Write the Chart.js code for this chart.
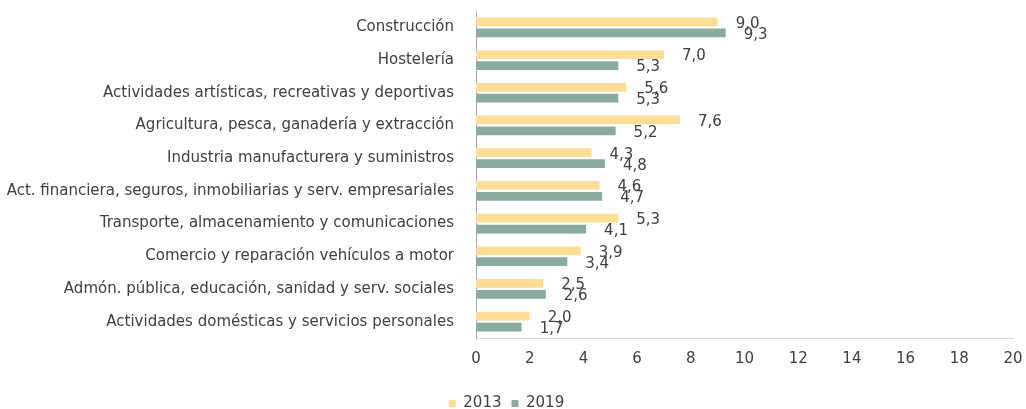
<!DOCTYPE html>
<html>
<head>
<meta charset="utf-8">
<script src="https://cdn.jsdelivr.net/npm/chart.js@4"></script>
<style>
  html, body { margin: 0; padding: 0; background: #fff; }
  #wrap { width: 1026px; height: 409px; }
</style>
</head>
<body>
<div id="wrap"><canvas id="sector-chart" width="1026" height="409"></canvas></div>
<script>
const categories = [
	"Construcción",
	"Hostelería",
	"Actividades artísticas, recreativas y deportivas",
	"Agricultura, pesca, ganadería y extracción",
	"Industria manufacturera y suministros",
	"Act. financiera, seguros, inmobiliarias y serv. empresariales",
	"Transporte, almacenamiento y comunicaciones",
	"Comercio y reparación vehículos a motor",
	"Admón. pública, educación, sanidad y serv. sociales",
	"Actividades domésticas y servicios personales",
];

const values2013 = [9.0, 7.0, 5.6, 7.6, 4.3, 4.6, 5.3, 3.9, 2.5, 2.0];
const values2019 = [9.3, 5.3, 5.3, 5.2, 4.8, 4.7, 4.1, 3.4, 2.6, 1.7];

const xTicks = [0, 2, 4, 6, 8, 10, 12, 14, 16, 18, 20];

const FONT = "DejaVu Sans";
const TEXT = "#404040";

// value labels just right of each bar end, decimal comma
const barLabels = {
	id: "barLabels",
	afterDatasetsDraw(chart) {
		const ctx = chart.ctx;
		ctx.save();
		ctx.font = "15px " + FONT;
		ctx.fillStyle = TEXT;
		ctx.textAlign = "left";
		ctx.textBaseline = "middle";
		chart.data.datasets.forEach((ds, i) => {
			chart.getDatasetMeta(i).data.forEach((bar, j) => {
				const txt = ds.data[j].toFixed(1).replace(".", ",");
				ctx.fillText(txt, bar.x + 18, bar.y + 2);
			});
		});
		ctx.restore();
	},
};

const ctx = document.getElementById("sector-chart").getContext("2d");

const chart = new Chart(ctx, {
	type: "bar",
	data: {
		labels: categories,
		datasets: [
			{
				label: "2013",
				data: values2013,
				backgroundColor: "#FFDD96",
			},
			{
				label: "2019",
				data: values2019,
				backgroundColor: "#89AC9D",
			},
		],
	},
	options: {
		indexAxis: "y",
		responsive: false,
		animation: false,
		categoryPercentage: 0.67,
		barPercentage: 0.8,
		layout: { padding: { top: 11, right: 13, left: 0, bottom: -12 } },
		plugins: {
			legend: {
				position: "bottom",
				labels: {
					boxWidth: 7,
					boxHeight: 7,
					padding: 10,
					color: TEXT,
					font: { family: FONT, size: 15 },
				},
			},
			tooltip: { enabled: false },
		},
		scales: {
			x: {
				min: 0,
				max: 20,
				afterBuildTicks: (s) => {
					s.ticks = xTicks.map((v) => ({ value: v }));
				},
				afterFit: (s) => {
					s.paddingLeft = 0;
					s.paddingRight = 0;
					s.height = 48;
				},
				grid: { display: false },
				border: { display: true, color: "#D9D9D9" },
				ticks: {
					padding: 4,
					color: TEXT,
					font: { family: FONT, size: 15 },
				},
			},
			y: {
				afterFit: (s) => {
					s.width = 476;
					s.paddingTop = 0;
					s.paddingBottom = 0;
				},
				grid: { display: false },
				border: { display: true, color: "#A6A6A6" },
				ticks: {
					padding: 14,
					color: TEXT,
					font: { family: FONT, size: 15 },
				},
			},
		},
	},
	plugins: [barLabels],
});
</script>
</body>
</html>
